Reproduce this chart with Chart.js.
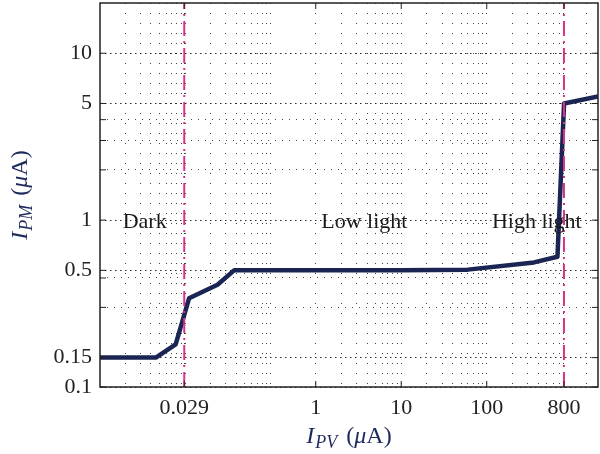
<!DOCTYPE html>
<html>
<head>
<meta charset="utf-8">
<script src="https://cdn.jsdelivr.net/npm/chart.js@4.4.1/dist/chart.umd.min.js"></script>
<style>
  html, body { margin: 0; padding: 0; background: #fff; }
  #wrap { width: 600px; height: 454px; }
</style>
</head>
<body>
<div id="wrap"><canvas id="ipm-chart"></canvas></div>
<script>
// PM current against PV current, both in uA, log-log
const pvCurrent = [0.003, 0.0135, 0.023, 0.033, 0.071, 0.111, 10, 60, 357, 671, 802, 2000];
const pmCurrent = [0.15, 0.15, 0.18, 0.34, 0.41, 0.5, 0.5, 0.505, 0.558, 0.603, 5.0, 5.5];

// region boundaries (dash-dot lines)
const thresholds = [0.029, 800];

const xTickValues = [0.029, 1, 10, 100, 800];
const xTickLabels = ["0.029", "1", "10", "100", "800"];
const xGridLines = [
  0.0059, 0.0089, 0.0118, 0.0148, 0.0178, 0.0207, 0.0237, 0.0266, 0.0296,
  0.059, 0.089, 0.118, 0.148, 0.178, 0.207, 0.237, 0.266, 0.296,
  1, 2, 3, 4, 5, 6, 7, 8, 9, 10,
  20, 30, 40, 50, 60, 70, 80, 90, 100,
  200, 300, 400, 500, 600, 700, 800, 1450
];

const yTickValues = [0.1, 0.15, 0.5, 1, 5, 10];
const yTickLabels = ["0.1", "0.15", "0.5", "1", "5", "10"];
const yMinorGridLines = [0.3, 0.45, 2, 3, 4];

const regionNames = ["Dark", "Low light", "High light"];
const regionCenters = [0.01, 3.7, 385];

const serif = "'Liberation Serif'";
const navy = "#1f2a5c";

const datasets = thresholds.map(t => ({
  data: [{x: t, y: 0.1}, {x: t, y: 20}],
  borderColor: "#d8338a",
  borderWidth: 2,
  borderDash: [15, 5, 2, 5],
  pointRadius: 0
}));
datasets.push({
  data: pvCurrent.map((x, i) => ({x: x, y: pmCurrent[i]})),
  borderColor: "#1b2553",
  borderWidth: 4.5,
  borderJoinStyle: "round",
  pointRadius: 0,
  tension: 0
});

function drawMathTitle(ctx, sub) {
  const parts = [
    {t: "I", f: "italic 24px " + serif, dy: 0, gap: 1},
    {t: sub, f: "italic 18px " + serif, dy: 5, gap: 3},
    {t: " (", f: "24px " + serif, dy: 0, gap: 0},
    {t: "\u03bc", f: "italic 24px " + serif, dy: 0, gap: 0},
    {t: "A)", f: "24px " + serif, dy: 0, gap: 0}
  ];
  let total = 0;
  parts.forEach(p => { ctx.font = p.f; p.w = ctx.measureText(p.t).width; total += p.w + p.gap; });
  let x = -total / 2;
  ctx.fillStyle = navy;
  ctx.textAlign = "left";
  ctx.textBaseline = "alphabetic";
  parts.forEach(p => { ctx.font = p.f; ctx.fillText(p.t, x, p.dy); x += p.w + p.gap; });
}

const noPad = s => { s.paddingTop = 0; s.paddingBottom = 0; s.paddingLeft = 0; s.paddingRight = 0; };

const decorPlugin = {
  id: "decor",
  afterDatasetsDraw(chart) {
    const {ctx, chartArea: a, scales} = chart;
    ctx.save();
    // region labels
    ctx.font = "22px " + serif;
    ctx.fillStyle = "#1a1a1a";
    ctx.textAlign = "center";
    ctx.textBaseline = "alphabetic";
    regionNames.forEach((name, i) => {
      ctx.fillText(name, scales.x.getPixelForValue(regionCenters[i]), scales.y.getPixelForValue(1) + 8);
    });
    // frame
    ctx.strokeStyle = "#222";
    ctx.lineWidth = 1.5;
    ctx.strokeRect(a.left, a.top, a.right - a.left, a.bottom - a.top);
    // inward ticks
    ctx.lineWidth = 1;
    ctx.beginPath();
    xTickValues.forEach(v => {
      const px = scales.x.getPixelForValue(v);
      ctx.moveTo(px, a.bottom); ctx.lineTo(px, a.bottom - 6);
      ctx.moveTo(px, a.top); ctx.lineTo(px, a.top + 6);
    });
    yTickValues.concat(yMinorGridLines).forEach(v => {
      const py = scales.y.getPixelForValue(v);
      ctx.moveTo(a.left, py); ctx.lineTo(a.left + 6, py);
      ctx.moveTo(a.right, py); ctx.lineTo(a.right - 6, py);
    });
    ctx.stroke();
    // axis titles
    ctx.save();
    ctx.translate((a.left + a.right) / 2, 443);
    drawMathTitle(ctx, "PV");
    ctx.restore();
    ctx.save();
    ctx.translate(27, (a.top + a.bottom) / 2);
    ctx.rotate(-Math.PI / 2);
    drawMathTitle(ctx, "PM");
    ctx.restore();
    ctx.restore();
  }
};

function drawChart() {
  new Chart("ipm-chart", {
    type: "line",
    data: { datasets: datasets },
    plugins: [decorPlugin],
    options: {
      responsive: true,
      maintainAspectRatio: false,
      animation: false,
      layout: { padding: { top: 3, right: 2, left: 0, bottom: 0 } },
      plugins: {
        legend: { display: false },
        tooltip: { enabled: false }
      },
      scales: {
        x: {
          type: "logarithmic",
          min: 0.003,
          max: 2000,
          afterBuildTicks: s => {
            s.ticks = xGridLines.concat([0.029]).sort((a, b) => a - b).map(v => ({value: v}));
          },
          afterFit: s => { s.height = 67; noPad(s); },
          ticks: {
            autoSkip: false,
            maxRotation: 0,
            minRotation: 0,
            padding: 8,
            color: "#222",
            font: { family: serif, size: 22 },
            callback: v => {
              const i = xTickValues.indexOf(v);
              return i < 0 ? "" : xTickLabels[i];
            }
          },
          grid: { color: "rgba(30,30,30,0.85)", lineWidth: 1, drawTicks: false },
          border: { display: false, dash: [1, 9] }
        },
        y: {
          type: "logarithmic",
          position: "left",
          min: 0.1,
          max: 20,
          afterBuildTicks: s => { s.ticks = yTickValues.map(v => ({value: v})); },
          afterFit: s => { s.width = 100; noPad(s); },
          ticks: {
            autoSkip: false,
            padding: 8,
            color: "#222",
            font: { family: serif, size: 22 },
            callback: v => {
              const i = yTickValues.indexOf(v);
              return i < 0 ? "" : yTickLabels[i];
            }
          },
          grid: { color: "rgba(20,20,20,0.9)", lineWidth: 1, drawTicks: false },
          border: { display: false, dash: [1.5, 3.5] }
        },
        y2: {
          type: "logarithmic",
          position: "left",
          min: 0.1,
          max: 20,
          afterBuildTicks: s => { s.ticks = yMinorGridLines.map(v => ({value: v})); },
          afterFit: s => { s.width = 0; noPad(s); },
          ticks: { display: false },
          grid: { color: "rgba(30,30,30,0.8)", lineWidth: 1, drawTicks: false },
          border: { display: false, dash: [1, 6] }
        }
      }
    }
  });
}

Promise.all([
  document.fonts.load("22px 'Liberation Serif'"),
  document.fonts.load("italic 22px 'Liberation Serif'")
]).then(drawChart, drawChart);
</script>
</body>
</html>
